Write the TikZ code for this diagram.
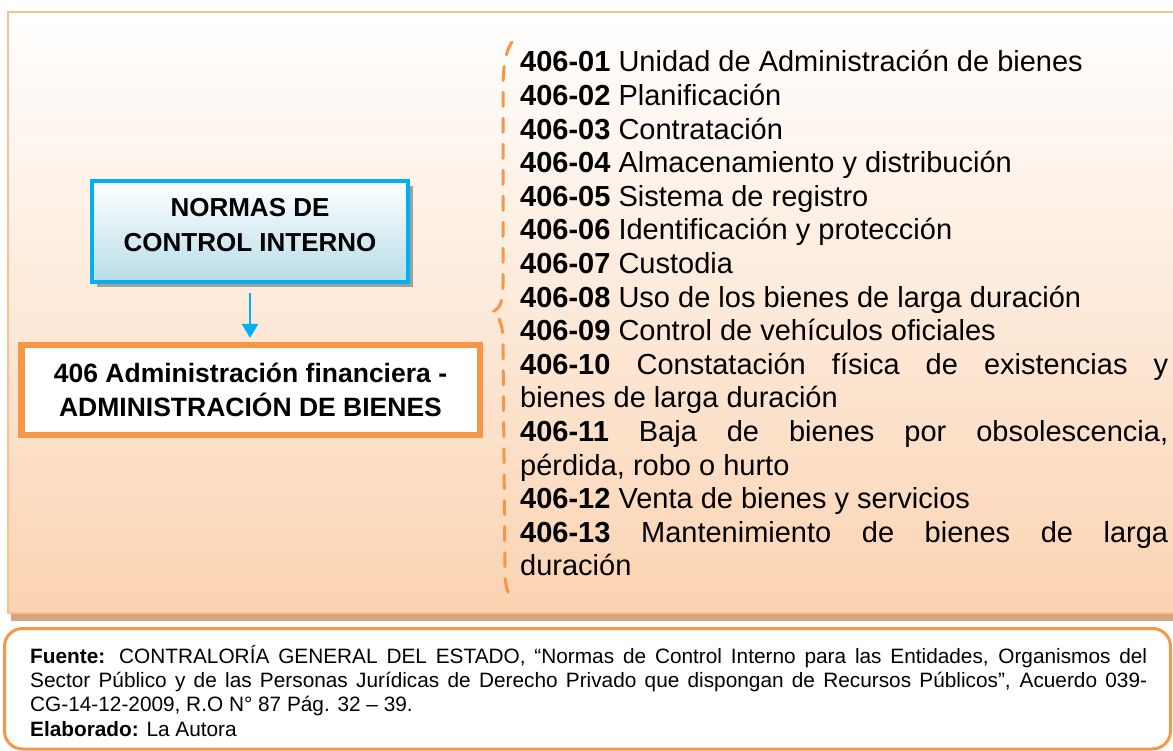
\documentclass[tikz,border=0pt]{standalone}
\usepackage{fontspec}
\setmainfont{Liberation Sans}
\usetikzlibrary{arrows.meta,shadows}
\definecolor{naranja}{RGB}{247,150,70}
\definecolor{durazno}{RGB}{251,211,178}
\definecolor{bordepanel}{RGB}{250,192,144}
\definecolor{sombrapanel}{RGB}{212,165,130}
\definecolor{celeste}{RGB}{0,176,240}
\definecolor{azulclaro}{RGB}{183,221,232}
\definecolor{sombracaja}{RGB}{160,160,160}

\begin{document}
\begin{tikzpicture}[x=1pt, y=-1pt,
        panel/.style={draw=bordepanel, line width=2pt, top color=white, bottom color=durazno},
        normas/.style={draw=celeste, line width=4pt, top color=white, bottom color=azulclaro,
            minimum width=316pt, minimum height=101pt, inner sep=0pt, align=center,
            font=\bfseries\fontsize{26}{35}\selectfont,
            drop shadow={shadow xshift=5pt, shadow yshift=-5pt, fill=sombracaja, opacity=1}},
        bienes/.style={draw=naranja, line width=6.5pt, fill=white, minimum width=458.5pt,
            minimum height=89.5pt, inner sep=0pt, align=center,
            font=\bfseries\fontsize{26.5}{34}\selectfont},
        flecha/.style={draw=celeste, line width=2.5pt, -{Triangle[width=16pt,length=14pt]}},
        llave/.style={draw=naranja, line width=3pt, dash pattern=on 14pt off 12pt, line cap=round},
        lista/.style={anchor=base west, text width=648pt, inner sep=0pt, align=justify,
            font=\fontsize{29}{33.6}\selectfont},
        fuente/.style={anchor=base west, text width=1117pt, inner sep=0pt, align=justify,
            font=\fontsize{20.8}{24.4}\selectfont},
        recuadro/.style={draw=naranja, line width=3pt, rounded corners=18pt}]

        \useasboundingbox (0,0) rectangle (1173,751);
        \clip (0,0) rectangle (1173,751);

        \fill[sombrapanel] (11,613) rectangle (1200,621);
        \draw[panel] (8,12) rectangle (1200,613);
        \draw[recuadro] (4.5,628.5) rectangle (1170.5,749);

        \node[normas] (normas) at (250,231.5) {NORMAS DE\\CONTROL INTERNO\rule[-13pt]{0pt}{13pt}};
        \node[bienes] (adm) at (250.5,390) {406 Administración financiera -\\ADMINISTRACIÓN DE BIENES};
        \draw[flecha, shorten <=9pt, shorten >=4pt] (normas.south) -- (normas.south |- adm.north);

        \coordinate (t1) at (512,42);
        \coordinate (t2) at (492,312);
        \coordinate (t3) at (511,597);
        \draw[llave] (t1) .. controls (505,52) and (503,68) .. (503,90) -- (503,285)
            .. controls (503,302) and (500,309) .. (t2)
            .. controls (500,316) and (503,325) .. (503,345) -- (505,570)
            .. controls (505,585) and (507,592) .. (t3);

        \node[lista] (items) at (520,72) {%
            \textbf{406-01} Unidad de Administración de bienes\par
            \textbf{406-02} Planificación\par
            \textbf{406-03} Contratación\par
            \textbf{406-04} Almacenamiento y distribución\par
            \textbf{406-05} Sistema de registro\par
            \textbf{406-06} Identificación y protección\par
            \textbf{406-07} Custodia\par
            \textbf{406-08} Uso de los bienes de larga duración\par
            \textbf{406-09} Control de vehículos oficiales\par
            \textbf{406-10} Constatación física de existencias y\linebreak bienes de larga duración\par
            \textbf{406-11} Baja de bienes por obsolescencia,\linebreak pérdida, robo o hurto\par
            \textbf{406-12} Venta de bienes y servicios\par
            \textbf{406-13} Mantenimiento de bienes de larga\linebreak duración};

        \node[fuente] (src) at (30,663) {%
            \textbf{Fuente:} CONTRALORÍA GENERAL DEL ESTADO, “Normas de Control Interno para las Entidades, Organismos del\linebreak
            Sector Público y de las Personas Jurídicas de Derecho Privado que dispongan de Recursos Públicos”, Acuerdo 039-\linebreak
            CG-14-12-2009, R.O N° 87 Pág. 32 – 39.\par
            \textbf{Elaborado:} La Autora};

    \end{tikzpicture}
\end{document}
